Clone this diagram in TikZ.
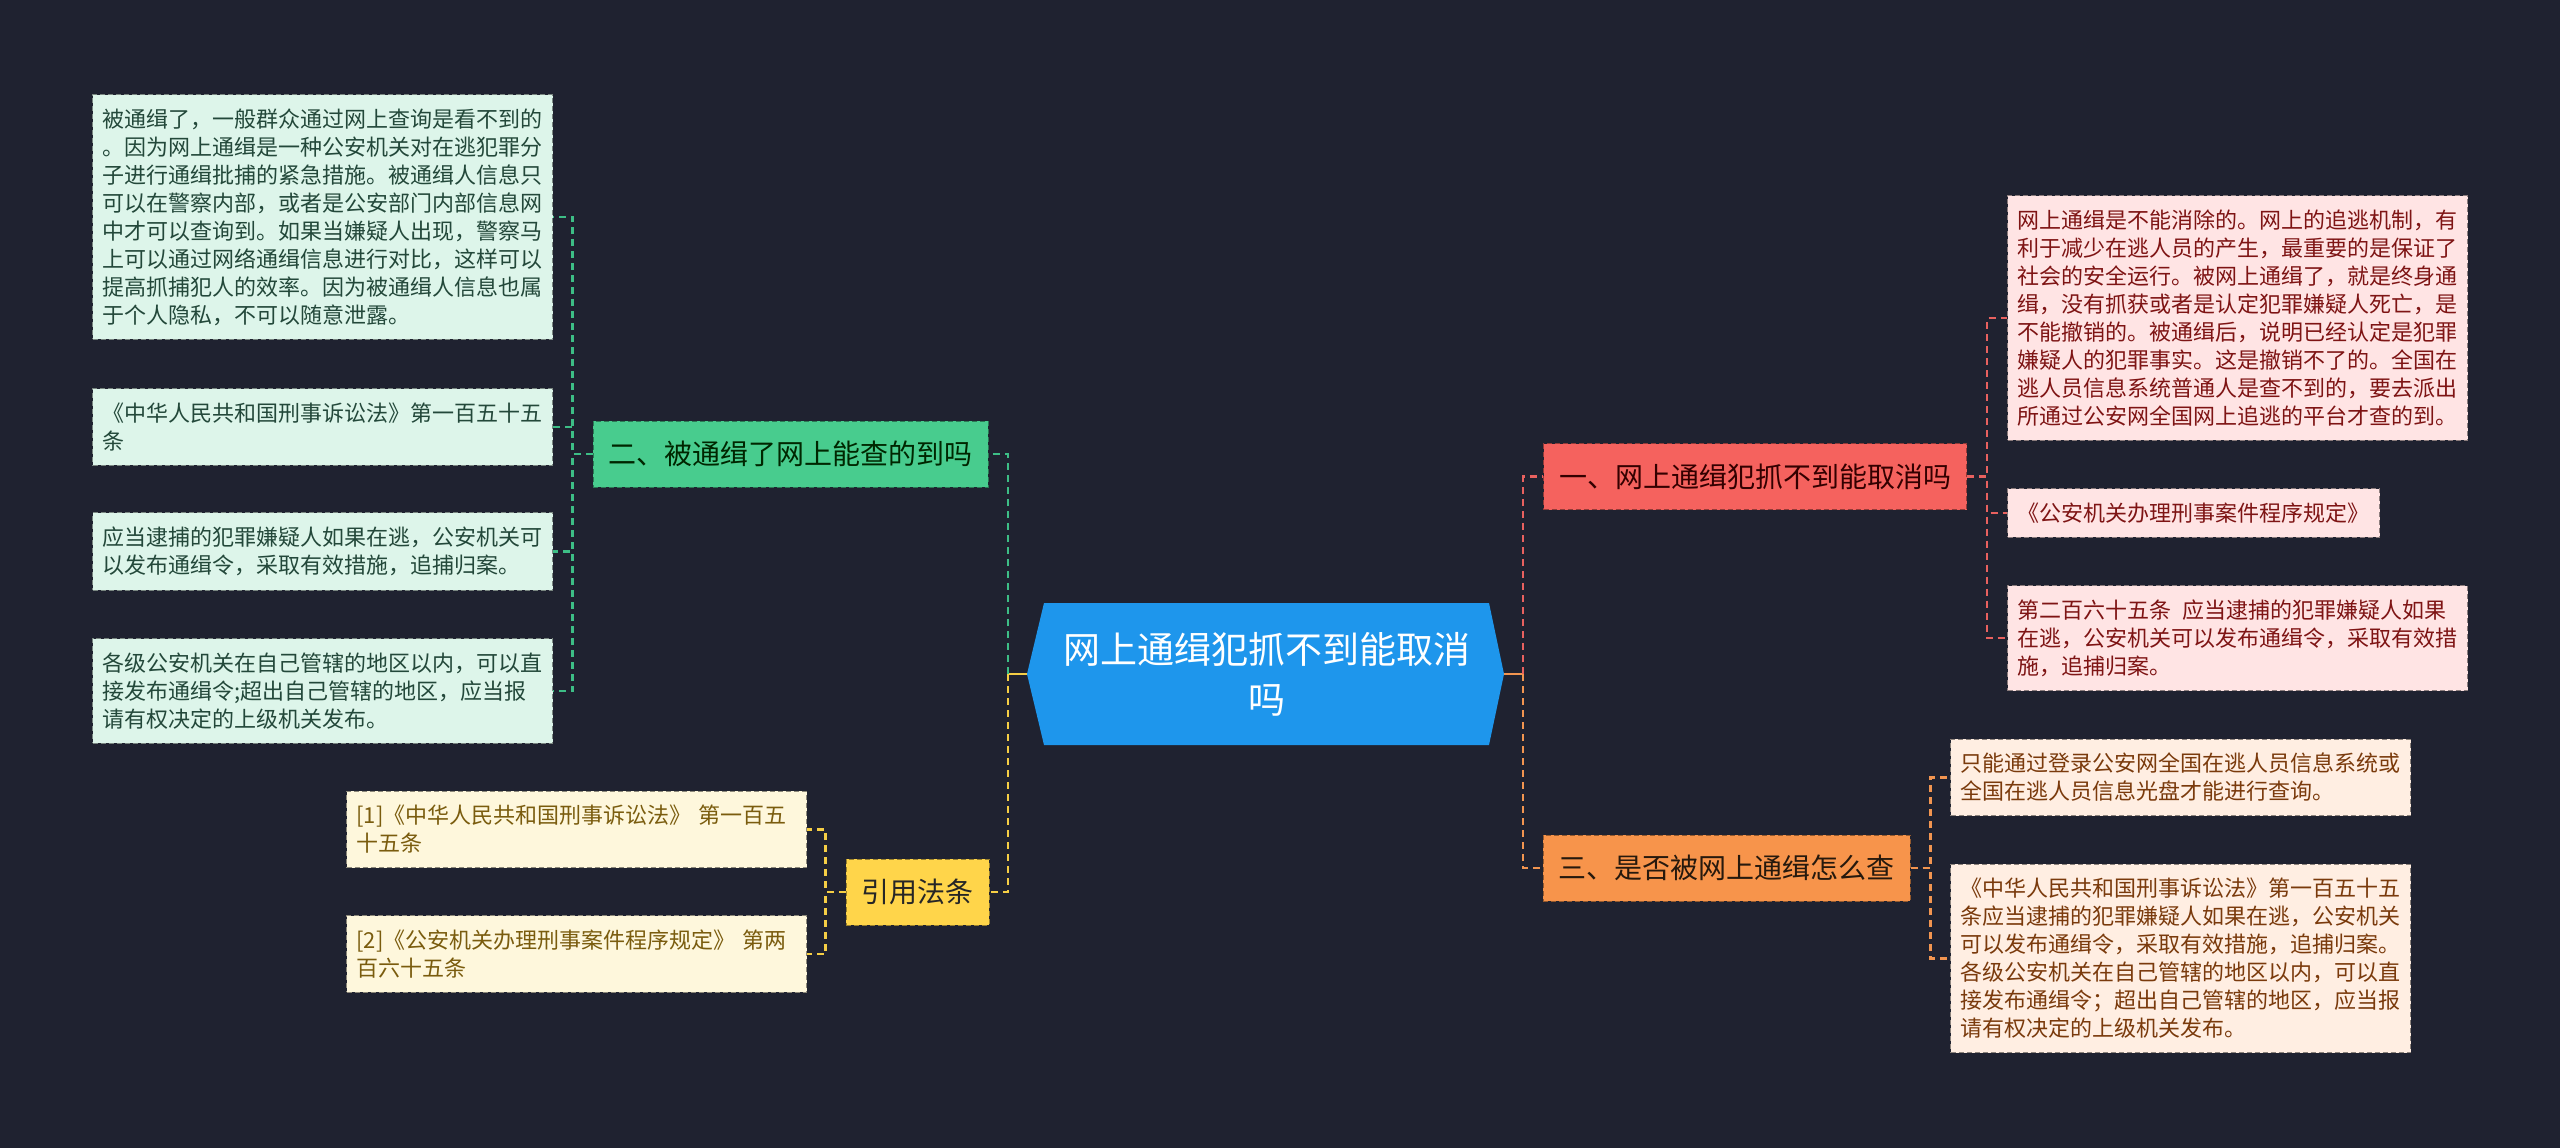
\documentclass[tikz,border=0pt]{standalone}
\usepackage{fontspec}
\newfontfamily\cjk{Noto Sans CJK SC}
\usetikzlibrary{calc}
\definecolor{bg}{HTML}{1F2230}
\definecolor{cfill}{HTML}{1E96EC}
\definecolor{gfill}{HTML}{48CC8E}
\definecolor{yfill}{HTML}{FFD54A}
\definecolor{rfill}{HTML}{F5625E}
\definecolor{ofill}{HTML}{F7944B}
\definecolor{glf}{HTML}{DDF5EA}
\definecolor{ylf}{HTML}{FEF7DC}
\definecolor{rlf}{HTML}{FFE4E4}
\definecolor{olf}{HTML}{FFEEE2}
\definecolor{glt}{HTML}{23483A}
\definecolor{ylt}{HTML}{7A5C0E}
\definecolor{rlt}{HTML}{7E1414}
\definecolor{olt}{HTML}{7A3A0C}
\definecolor{gl}{HTML}{3DBE86}
\definecolor{yl}{HTML}{F5CE45}
\definecolor{rl}{HTML}{E8615F}
\definecolor{ol}{HTML}{F29550}
\tikzset{
  box/.style={dashed, line width=1pt, dash pattern=on 5pt off 3pt},
  leaf/.style={box, font=\cjk\fontsize{22}{28}\selectfont, align=left, inner xsep=10pt, inner ysep=14pt},
  gleaf/.style={leaf, fill=glf, draw=glf!55!black, text=glt},
  yleaf/.style={leaf, fill=ylf, draw=ylf!55!black, text=ylt, text width=440pt},
  rleaf/.style={leaf, fill=rlf, draw=rlf!55!black, text=rlt},
  oleaf/.style={leaf, fill=olf, draw=olf!55!black, text=olt},
  branch/.style={box, font=\cjk\fontsize{28}{34}\selectfont, inner xsep=15.5pt, minimum height=66pt},
  conn/.style={line width=2.5pt, dash pattern=on 7pt off 5pt},
  gconn/.style={conn, draw=gl},
  yconn/.style={conn, draw=yl},
  rconn/.style={conn, draw=rl},
  oconn/.style={conn, draw=ol},
}
\begin{document}
\begin{tikzpicture}[x=1pt, y=-1pt]
\fill[bg] (0,0) rectangle (2560,1148);
\useasboundingbox (0,0) rectangle (2560,1148);

% central
\fill[cfill] (1044,603) -- (1489,603) -- (1504,674) -- (1489,745) -- (1044,745) -- (1027,674) -- cycle;
\node[font=\cjk\fontsize{37}{50}\selectfont, text=white, align=center, minimum width=445pt, minimum height=142pt, inner sep=0pt] (c) at (1266.5,674) {网上通缉犯抓不到能取消\\吗};
\coordinate (cL) at ($(c.west)+(-17,0)$);
\coordinate (cR) at ($(c.east)+(15,0)$);

% branches
\node[branch, fill=gfill, draw=gfill!60!black, text=black!85!green] (g) at (790.5,454) {二、被通缉了网上能查的到吗};
\node[branch, fill=yfill, draw=yfill!60!black, text=black!85] (y) at (917.5,892) {引用法条};
\node[branch, fill=rfill, draw=rfill!60!black, text=black!80!red] (r) at (1755,476.5) {一、网上通缉犯抓不到能取消吗};
\node[branch, fill=ofill, draw=ofill!60!black, text=black!80!brown] (o) at (1726.5,868) {三、是否被网上通缉怎么查};

% green leaves
\node[gleaf, anchor=east] (g1) at (553,217) {被通缉了，一般群众通过网上查询是看不到的\\。因为网上通缉是一种公安机关对在逃犯罪分\\子进行通缉批捕的紧急措施。被通缉人信息只\\可以在警察内部，或者是公安部门内部信息网\\中才可以查询到。如果当嫌疑人出现，警察马\\上可以通过网络通缉信息进行对比，这样可以\\提高抓捕犯人的效率。因为被通缉人信息也属\\于个人隐私，不可以随意泄露。};
\node[gleaf, anchor=east] (g2) at (553,427) {《中华人民共和国刑事诉讼法》第一百五十五\\条};
\node[gleaf, anchor=east] (g3) at (553,551.5) {应当逮捕的犯罪嫌疑人如果在逃，公安机关可\\以发布通缉令，采取有效措施，追捕归案。};
\node[gleaf, anchor=east] (g4) at (553,691) {各级公安机关在自己管辖的地区以内，可以直\\接发布通缉令;超出自己管辖的地区，应当报\\请有权决定的上级机关发布。};

% yellow leaves
\node[yleaf, anchor=east] (y1) at (807,829.5) {[1]《中华人民共和国刑事诉讼法》 第一百五\\十五条};
\node[yleaf, anchor=east] (y2) at (807,954) {[2]《公安机关办理刑事案件程序规定》 第两\\百六十五条};

% red leaves
\node[rleaf, anchor=west] (r1) at (2007,318) {网上通缉是不能消除的。网上的追逃机制，有\\利于减少在逃人员的产生，最重要的是保证了\\社会的安全运行。被网上通缉了，就是终身通\\缉，没有抓获或者是认定犯罪嫌疑人死亡，是\\不能撤销的。被通缉后，说明已经认定是犯罪\\嫌疑人的犯罪事实。这是撤销不了的。全国在\\逃人员信息系统普通人是查不到的，要去派出\\所通过公安网全国网上追逃的平台才查的到。};
\node[rleaf, anchor=west] (r2) at (2007,513) {《公安机关办理刑事案件程序规定》};
\node[rleaf, anchor=west] (r3) at (2007,638) {第二百六十五条\hspace{11pt}应当逮捕的犯罪嫌疑人如果\\在逃，公安机关可以发布通缉令，采取有效措\\施，追捕归案。};

% orange leaves
\node[oleaf, anchor=west] (o1) at (1950,777.5) {只能通过登录公安网全国在逃人员信息系统或\\全国在逃人员信息光盘才能进行查询。};
\node[oleaf, anchor=west] (o2) at (1950,958.5) {《中华人民共和国刑事诉讼法》第一百五十五\\条应当逮捕的犯罪嫌疑人如果在逃，公安机关\\可以发布通缉令，采取有效措施，追捕归案。\\各级公安机关在自己管辖的地区以内，可以直\\接发布通缉令；超出自己管辖的地区，应当报\\请有权决定的上级机关发布。};

% connectors center
\coordinate (jl) at ($(cL)+(-19,0)$);
\coordinate (jr) at ($(cR)+(19,0)$);
\draw[line width=2.5pt, yl] (cL) -- (jl);
\draw[line width=2.5pt, ol] (cR) -- (jr);
\draw[gconn] (jl) |- (g.east);
\draw[yconn] (jl) |- (y.east);
\draw[rconn] (jr) |- (r.west);
\draw[oconn] (jr) |- (o.west);

% branch to leaves
\foreach \l in {g1,g2,g3,g4} \draw[gconn] (g.west) -- ++(-20,0) |- (\l.east);
\foreach \l in {y1,y2} \draw[yconn] (y.west) -- ++(-20,0) |- (\l.east);
\foreach \l in {r1,r2,r3} \draw[rconn] (r.east) -- ++(20,0) |- (\l.west);
\foreach \l in {o1,o2} \draw[oconn] (o.east) -- ++(20,0) |- (\l.west);
\end{tikzpicture}
\end{document}
